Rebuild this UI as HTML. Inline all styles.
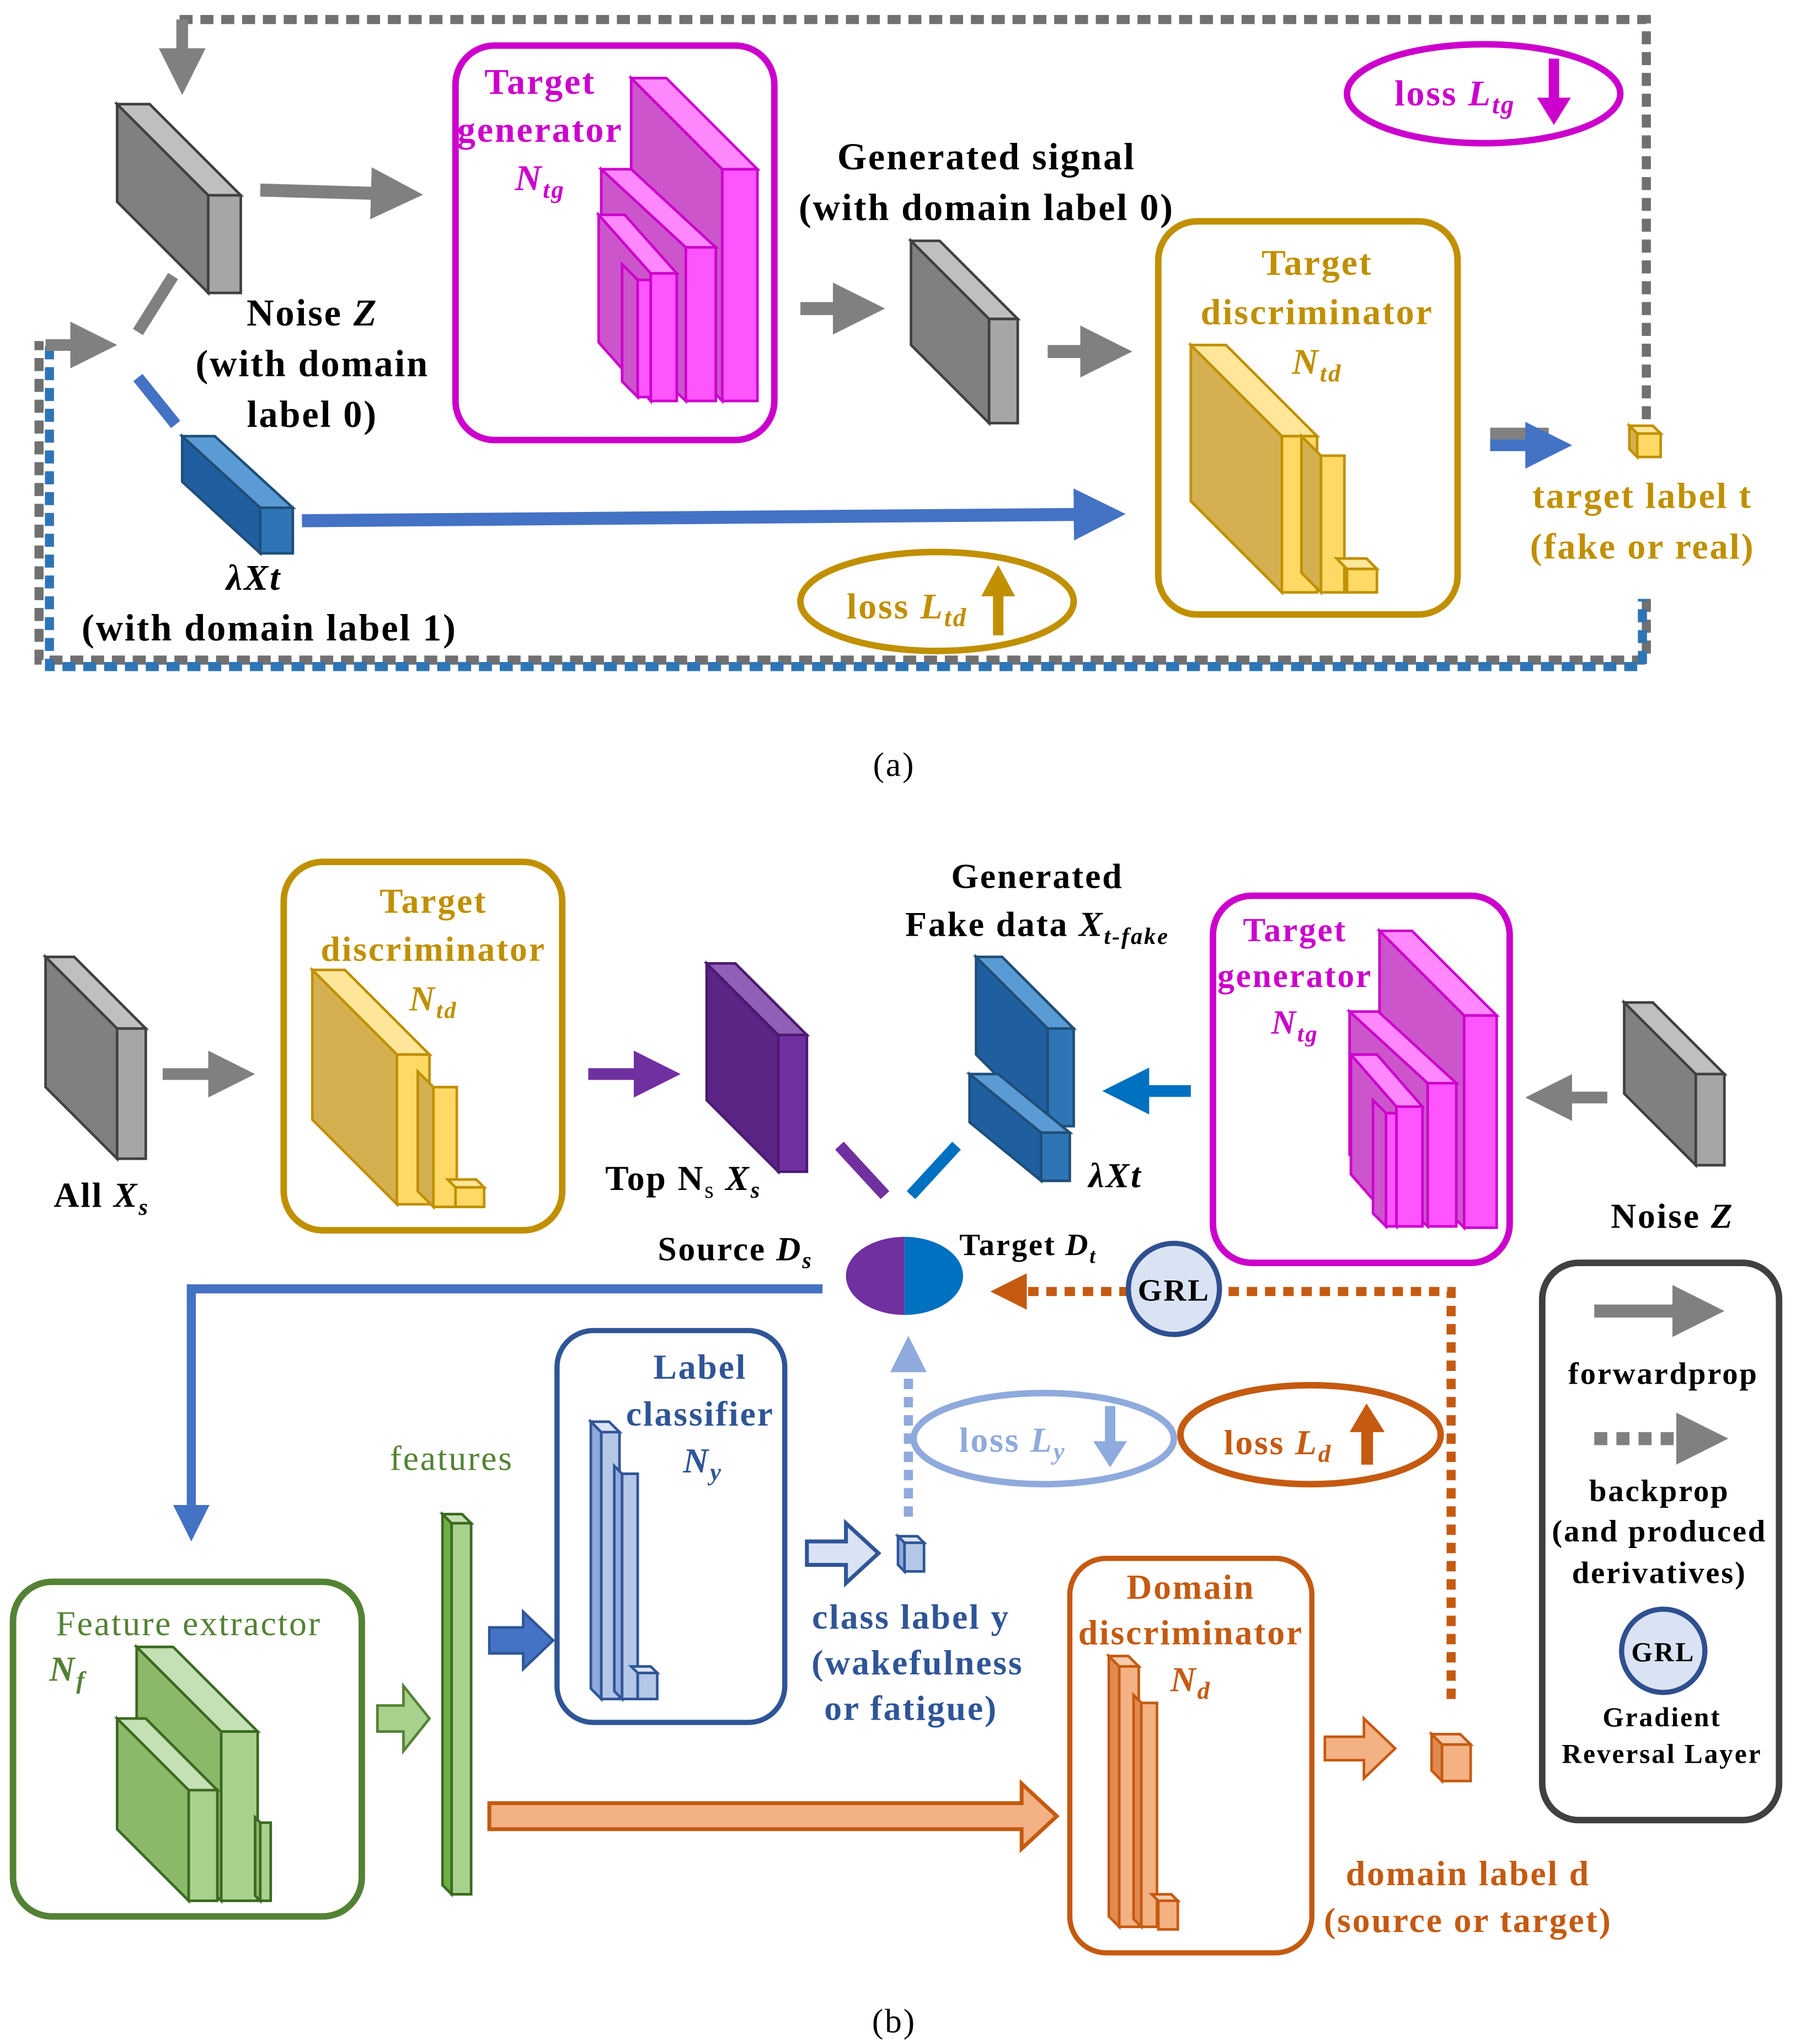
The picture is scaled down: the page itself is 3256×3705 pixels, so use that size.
<!DOCTYPE html>
<html><head><meta charset="utf-8"><style>
html,body{margin:0;padding:0;background:#fff}
svg{display:block}
text{font-family:"Liberation Serif",serif;font-weight:bold;text-anchor:middle;letter-spacing:1.2px}
</style></head><body>
<svg width="3256" height="3705" viewBox="0 0 1380 1570" preserveAspectRatio="none" xmlns="http://www.w3.org/2000/svg">
<defs>
<marker id="ag" markerWidth="4" markerHeight="4" refX="2" refY="2" orient="auto" markerUnits="strokeWidth"><path d="M0,0 L4,2 L0,4 z" fill="#808080"/></marker>
<marker id="ab" markerWidth="4" markerHeight="4" refX="2" refY="2" orient="auto" markerUnits="strokeWidth"><path d="M0,0 L4,2 L0,4 z" fill="#4472c4"/></marker>
<marker id="ab2" markerWidth="4" markerHeight="4" refX="2" refY="2" orient="auto" markerUnits="strokeWidth"><path d="M0,0 L4,2 L0,4 z" fill="#0070c0"/></marker>
<marker id="ap" markerWidth="4" markerHeight="4" refX="2" refY="2" orient="auto" markerUnits="strokeWidth"><path d="M0,0 L4,2 L0,4 z" fill="#7030a0"/></marker>
<marker id="ao" markerWidth="4" markerHeight="4" refX="2" refY="2" orient="auto" markerUnits="strokeWidth"><path d="M0,0 L4,2 L0,4 z" fill="#c55a11"/></marker>
<marker id="al" markerWidth="4" markerHeight="4" refX="2" refY="2" orient="auto" markerUnits="strokeWidth"><path d="M0,0 L4,2 L0,4 z" fill="#8faadc"/></marker>
</defs>

<!-- ===== (a) ===== -->
<g fill="none" stroke-width="7">
<polyline points="138,15 1265,15 1265,330" stroke="#707070" stroke-dasharray="10,6"/>
<polyline points="1265,460 1265,507 30,507 30,262" stroke="#707070" stroke-dasharray="10,6"/>
<polyline points="1262,460 1262,512 38,512 38,265" stroke="#2e75b6" stroke-dasharray="10,6" stroke-dashoffset="8"/>
</g>
<line x1="140" y1="15" x2="140" y2="55" stroke="#808080" stroke-width="9" marker-end="url(#ag)"/>
<line x1="35" y1="265" x2="72" y2="265" stroke="#808080" stroke-width="9" marker-end="url(#ag)"/>

<g stroke="#404040" stroke-width="2">
<polygon points="90,80 160,150 160,225 90,155" fill="#808080"/>
<polygon points="90,80 115,80 185,150 160,150" fill="#bfbfbf"/>
<rect x="160" y="150" width="25" height="75" fill="#a6a6a6"/>
</g>
<line x1="200" y1="146" x2="305" y2="149" stroke="#808080" stroke-width="10" marker-end="url(#ag)"/>
<line x1="133" y1="212" x2="106" y2="255" stroke="#808080" stroke-width="9"/>
<line x1="106" y1="290" x2="135" y2="326" stroke="#4472c4" stroke-width="9"/>
<text x="240" y="250" font-size="29">Noise <tspan font-style="italic">Z</tspan></text>
<text x="240" y="289" font-size="29">(with domain</text>
<text x="240" y="328" font-size="29">label 0)</text>

<rect x="350" y="35" width="245" height="303" rx="30" fill="none" stroke="#cc00cc" stroke-width="5"/>
<g stroke="#cc00cc" stroke-width="2">
<polygon points="485,60 555,130 555,308 485,238" fill="#cc55cc"/>
<polygon points="485,60 512,60 582,130 555,130" fill="#ff88ff"/>
<rect x="555" y="130" width="27" height="178" fill="#ff55ff"/>
<polygon points="462,130 527,190 527,308 462,248" fill="#cc55cc"/>
<polygon points="462,130 485,130 550,190 527,190" fill="#ff88ff"/>
<rect x="527" y="190" width="23" height="118" fill="#ff55ff"/>
<polygon points="460,165 500,210 500,308 460,263" fill="#cc55cc"/>
<polygon points="460,165 480,165 520,210 500,210" fill="#ff88ff"/>
<rect x="500" y="210" width="20" height="98" fill="#ff55ff"/>
<polygon points="478,203 490,215 490,305 478,293" fill="#cc55cc"/>
<rect x="490" y="215" width="10" height="90" fill="#ff55ff"/>
</g>
<text x="415" y="72" font-size="28" fill="#cc00cc">Target</text>
<text x="415" y="109" font-size="28" fill="#cc00cc">generator</text>
<text x="415" y="146" font-size="28" fill="#cc00cc" font-style="italic">N<tspan font-size="19" dy="6">tg</tspan></text>

<text x="758" y="130" font-size="29">Generated signal</text>
<text x="758" y="169" font-size="29">(with domain label 0)</text>
<line x1="615" y1="237" x2="660" y2="237" stroke="#808080" stroke-width="10" marker-end="url(#ag)"/>
<g stroke="#404040" stroke-width="2">
<polygon points="700,185 760,245 760,325 700,265" fill="#808080"/>
<polygon points="700,185 722,185 782,245 760,245" fill="#bfbfbf"/>
<rect x="760" y="245" width="22" height="80" fill="#a6a6a6"/>
</g>
<line x1="805" y1="270" x2="850" y2="270" stroke="#808080" stroke-width="10" marker-end="url(#ag)"/>

<rect x="890" y="170" width="230" height="302" rx="30" fill="none" stroke="#c09000" stroke-width="5"/>
<g stroke="#c09000" stroke-width="2">
<polygon points="915,265 985,335 985,455 915,385" fill="#d4b050"/>
<polygon points="915,265 942,265 1012,335 985,335" fill="#ffe699"/>
<rect x="985" y="335" width="27" height="120" fill="#ffd966"/>
<polygon points="1000,335 1015,350 1015,455 1000,440" fill="#d4b050"/>
<rect x="1015" y="350" width="18" height="105" fill="#ffd966"/>
<polygon points="1027,429 1035,437 1058,437 1050,429" fill="#ffe699"/>
<rect x="1035" y="437" width="23" height="18" fill="#ffd966"/>
</g>
<text x="1012" y="211" font-size="28" fill="#c09000">Target</text>
<text x="1012" y="249" font-size="28" fill="#c09000">discriminator</text>
<text x="1012" y="287" font-size="28" fill="#c09000" font-style="italic">N<tspan font-size="19" dy="6">td</tspan></text>

<line x1="1145" y1="333" x2="1190" y2="333" stroke="#808080" stroke-width="9"/>
<line x1="1145" y1="342" x2="1190" y2="342" stroke="#4472c4" stroke-width="9" marker-end="url(#ab)"/>
<g stroke="#c09000" stroke-width="2">
<polygon points="1252,327 1258,333 1276,333 1270,327" fill="#ffe699"/>
<polygon points="1252,327 1258,333 1258,351 1252,345" fill="#d4b050"/>
<rect x="1258" y="333" width="18" height="18" fill="#ffd966"/>
</g>
<text x="1262" y="390" font-size="28" fill="#c09000">target label t</text>
<text x="1262" y="429" font-size="28" fill="#c09000">(fake or real)</text>

<ellipse cx="1140" cy="72" rx="105" ry="38" fill="none" stroke="#cc00cc" stroke-width="5"/>
<text x="1118" y="81" font-size="28" fill="#cc00cc">loss <tspan font-style="italic">L<tspan font-size="20" dy="6">tg</tspan></tspan></text>
<polygon points="1190,45 1198,45 1198,75 1207,75 1194,96 1181,75 1190,75" fill="#cc00cc"/>

<g stroke="#1f4e79" stroke-width="2">
<polygon points="140,335 200,390 200,425 140,370" fill="#1f5fa0"/>
<polygon points="140,335 165,335 225,390 200,390" fill="#5b9bd5"/>
<rect x="200" y="390" width="25" height="35" fill="#2e75b6"/>
</g>
<line x1="232" y1="400" x2="845" y2="395" stroke="#4472c4" stroke-width="10" marker-end="url(#ab)"/>
<text x="195" y="453" font-size="28" font-style="italic">λXt</text>
<text x="207" y="492" font-size="29">(with domain label 1)</text>

<ellipse cx="720" cy="462" rx="105" ry="38" fill="none" stroke="#c09000" stroke-width="5"/>
<text x="697" y="475" font-size="28" fill="#c09000">loss <tspan font-style="italic">L<tspan font-size="20" dy="6">td</tspan></tspan></text>
<polygon points="763,488 771,488 771,458 780,458 767,434 754,458 763,458" fill="#c09000"/>

<text x="687" y="596" font-size="26" style="font-weight:normal">(a)</text>

<!-- ===== (b) ===== -->
<g stroke="#404040" stroke-width="2">
<polygon points="35,735 90,790 90,890 35,835" fill="#808080"/>
<polygon points="35,735 57,735 112,790 90,790" fill="#bfbfbf"/>
<rect x="90" y="790" width="22" height="100" fill="#a6a6a6"/>
</g>
<text x="78" y="927" font-size="27">All <tspan font-style="italic">X<tspan font-size="18" dy="6">s</tspan></tspan></text>
<line x1="125" y1="825" x2="178" y2="825" stroke="#808080" stroke-width="9" marker-end="url(#ag)"/>

<rect x="218" y="662" width="214" height="283" rx="30" fill="none" stroke="#c09000" stroke-width="5"/>
<g stroke="#c09000" stroke-width="2">
<polygon points="240,745 305,810 305,925 240,860" fill="#d4b050"/>
<polygon points="240,745 265,745 330,810 305,810" fill="#ffe699"/>
<rect x="305" y="810" width="25" height="115" fill="#ffd966"/>
<polygon points="321,823 333,835 333,927 321,915" fill="#d4b050"/>
<rect x="333" y="835" width="18" height="92" fill="#ffd966"/>
<polygon points="344,906 350,912 372,912 366,906" fill="#ffe699"/>
<rect x="350" y="912" width="22" height="15" fill="#ffd966"/>
</g>
<text x="333" y="701" font-size="27" fill="#c09000">Target</text>
<text x="333" y="738" font-size="27" fill="#c09000">discriminator</text>
<text x="333" y="776" font-size="27" fill="#c09000" font-style="italic">N<tspan font-size="18" dy="6">td</tspan></text>

<line x1="452" y1="825" x2="505" y2="825" stroke="#7030a0" stroke-width="9" marker-end="url(#ap)"/>
<g stroke="#4b1a70" stroke-width="2">
<polygon points="543,740 598,795 598,900 543,845" fill="#5a2585"/>
<polygon points="543,740 565,740 620,795 598,795" fill="#9060b8"/>
<rect x="598" y="795" width="22" height="105" fill="#7030a0"/>
</g>
<text x="525" y="914" font-size="27">Top N<tspan font-size="18" dy="6" style="font-weight:normal">s</tspan><tspan dy="-6"> </tspan><tspan font-style="italic">X<tspan font-size="18" dy="6">s</tspan></tspan></text>
<line x1="645" y1="880" x2="680" y2="918" stroke="#7030a0" stroke-width="9"/>
<line x1="700" y1="918" x2="735" y2="880" stroke="#0070c0" stroke-width="9"/>

<text x="797" y="682" font-size="27">Generated</text>
<text x="797" y="719" font-size="27">Fake data <tspan font-style="italic">X<tspan font-size="18" dy="6">t-fake</tspan></tspan></text>
<g stroke="#1f4e79" stroke-width="2">
<polygon points="750,735 805,790 805,865 750,810" fill="#1f5fa0"/>
<polygon points="750,735 770,735 825,790 805,790" fill="#5b9bd5"/>
<rect x="805" y="790" width="20" height="75" fill="#2e75b6"/>
<polygon points="745,825 800,870 800,907 745,862" fill="#1f5fa0"/>
<polygon points="745,825 767,825 822,870 800,870" fill="#5b9bd5"/>
<rect x="800" y="870" width="22" height="37" fill="#2e75b6"/>
</g>
<text x="857" y="912" font-size="27" font-style="italic">λXt</text>
<line x1="915" y1="838" x2="865" y2="838" stroke="#0070c0" stroke-width="9" marker-end="url(#ab2)"/>

<rect x="932" y="688" width="228" height="282" rx="30" fill="none" stroke="#cc00cc" stroke-width="5"/>
<g stroke="#cc00cc" stroke-width="2">
<polygon points="1060,715 1125,780 1125,943 1060,878" fill="#cc55cc"/>
<polygon points="1060,715 1085,715 1150,780 1125,780" fill="#ff88ff"/>
<rect x="1125" y="780" width="25" height="163" fill="#ff55ff"/>
<polygon points="1037,777 1097,832 1097,942 1037,887" fill="#cc55cc"/>
<polygon points="1037,777 1059,777 1119,832 1097,832" fill="#ff88ff"/>
<rect x="1097" y="832" width="22" height="110" fill="#ff55ff"/>
<polygon points="1038,810 1073,850 1073,942 1038,902" fill="#cc55cc"/>
<polygon points="1038,810 1058,810 1093,850 1073,850" fill="#ff88ff"/>
<rect x="1073" y="850" width="20" height="92" fill="#ff55ff"/>
<polygon points="1055,845 1065,855 1065,942 1055,932" fill="#cc55cc"/>
<rect x="1065" y="855" width="8" height="87" fill="#ff55ff"/>
</g>
<text x="995" y="723" font-size="26" fill="#cc00cc">Target</text>
<text x="995" y="758" font-size="26" fill="#cc00cc">generator</text>
<text x="995" y="794" font-size="26" fill="#cc00cc" font-style="italic">N<tspan font-size="18" dy="6">tg</tspan></text>

<line x1="1235" y1="843" x2="1190" y2="843" stroke="#808080" stroke-width="9" marker-end="url(#ag)"/>
<g stroke="#404040" stroke-width="2">
<polygon points="1248,770 1303,825 1303,895 1248,840" fill="#808080"/>
<polygon points="1248,770 1270,770 1325,825 1303,825" fill="#bfbfbf"/>
<rect x="1303" y="825" width="22" height="70" fill="#a6a6a6"/>
</g>
<text x="1285" y="943" font-size="27">Noise <tspan font-style="italic">Z</tspan></text>

<text x="565" y="968" font-size="26">Source <tspan font-style="italic">D<tspan font-size="18" dy="6">s</tspan></tspan></text>
<text x="790" y="964" font-size="24">Target <tspan font-style="italic">D<tspan font-size="16" dy="6">t</tspan></tspan></text>
<path d="M695,950 A45,30 0 0 0 695,1010 z" fill="#7030a0"/>
<path d="M695,950 A45,30 0 0 1 695,1010 z" fill="#0070c0"/>

<polyline points="1115,1305 1115,992 785,992" fill="none" stroke="#c55a11" stroke-width="7" stroke-dasharray="8,6"/>
<line x1="785" y1="992" x2="775" y2="992" stroke="#c55a11" stroke-width="7" marker-end="url(#ao)"/>
<circle cx="902" cy="990" r="35" fill="#dae3f3" stroke="#2f4f8f" stroke-width="4"/>
<text x="902" y="999" font-size="24">GRL</text>

<polyline points="632,990 147,990 147,1170" fill="none" stroke="#4472c4" stroke-width="7" marker-end="url(#ab)"/>
<polyline points="698,1165 698,1050" fill="none" stroke="#8faadc" stroke-width="7" stroke-dasharray="8,6"/>
<line x1="698" y1="1050" x2="698" y2="1040" stroke="#8faadc" stroke-width="7" marker-end="url(#al)"/>

<ellipse cx="802" cy="1105" rx="100" ry="35" fill="none" stroke="#8faadc" stroke-width="5"/>
<text x="778" y="1115" font-size="27" fill="#8faadc">loss <tspan font-style="italic">L<tspan font-size="19" dy="6">y</tspan></tspan></text>
<polygon points="849,1080 857,1080 857,1107 866,1107 853,1127 840,1107 849,1107" fill="#8faadc"/>
<ellipse cx="1007" cy="1102" rx="100" ry="38" fill="none" stroke="#c55a11" stroke-width="5"/>
<text x="982" y="1117" font-size="27" fill="#c55a11">loss <tspan font-style="italic">L<tspan font-size="19" dy="6">d</tspan></tspan></text>
<polygon points="1046,1125 1055,1125 1055,1100 1064,1100 1050,1078 1037,1100 1046,1100" fill="#c55a11"/>

<rect x="428" y="1022" width="175" height="301" rx="28" fill="none" stroke="#2f5597" stroke-width="4"/>
<g stroke="#2f5597" stroke-width="2">
<polygon points="454,1092 462,1100 462,1305 454,1297" fill="#8faadc"/>
<polygon points="454,1092 468,1092 476,1100 462,1100" fill="#dae3f3"/>
<rect x="462" y="1100" width="14" height="205" fill="#b4c7e7"/>
<polygon points="472,1126 478,1132 478,1305 472,1299" fill="#8faadc"/>
<rect x="478" y="1132" width="12" height="173" fill="#b4c7e7"/>
<polygon points="485,1280 490,1285 505,1285 500,1280" fill="#dae3f3"/>
<rect x="490" y="1285" width="15" height="20" fill="#b4c7e7"/>
</g>
<text x="538" y="1059" font-size="27" fill="#2f5597">Label</text>
<text x="538" y="1095" font-size="27" fill="#2f5597">classifier</text>
<text x="540" y="1131" font-size="27" fill="#2f5597" font-style="italic">N<tspan font-size="19" dy="6">y</tspan></text>

<text x="347" y="1129" font-size="27" fill="#548235" style="font-weight:normal">features</text>
<g stroke="#3a6a20" stroke-width="2">
<polygon points="340,1163 347,1170 347,1455 340,1448" fill="#70ad47"/>
<polygon points="340,1163 355,1163 362,1170 347,1170" fill="#c5e0b4"/>
<rect x="347" y="1170" width="15" height="285" fill="#a9d18e"/>
</g>

<rect x="10" y="1215" width="268" height="257" rx="30" fill="none" stroke="#548235" stroke-width="5"/>
<g stroke="#3a6a20" stroke-width="2">
<polygon points="105,1265 170,1330 170,1460 105,1395" fill="#8cb86a"/>
<polygon points="105,1265 133,1265 198,1330 170,1330" fill="#c5e0b4"/>
<rect x="170" y="1330" width="28" height="130" fill="#a9d18e"/>
<polygon points="90,1320 145,1375 145,1460 90,1405" fill="#8cb86a"/>
<polygon points="90,1320 112,1320 167,1375 145,1375" fill="#c5e0b4"/>
<rect x="145" y="1375" width="22" height="85" fill="#a9d18e"/>
<polygon points="196,1396 200,1400 200,1460 196,1456" fill="#8cb86a"/>
<rect x="200" y="1400" width="8" height="60" fill="#a9d18e"/>
</g>
<text x="145" y="1256" font-size="27" fill="#548235" style="font-weight:normal">Feature extractor</text>
<text x="52" y="1291" font-size="27" fill="#548235" font-style="italic">N<tspan font-size="19" dy="6">f</tspan></text>

<polygon points="376,1250 402,1250 402,1238 425,1260 402,1282 402,1270 376,1270" fill="#4472c4" stroke="#2f5597" stroke-width="2"/>
<polygon points="290,1310 310,1310 310,1295 330,1320 310,1345 310,1330 290,1330" fill="#a9d18e" stroke="#548235" stroke-width="2"/>
<polygon points="620,1184 650,1184 650,1170 675,1193 650,1216 650,1202 620,1202" fill="#dae3f3" stroke="#2f5597" stroke-width="3"/>
<g stroke="#2f5597" stroke-width="2">
<polygon points="690,1180 695,1185 710,1185 705,1180" fill="#dae3f3"/>
<polygon points="690,1180 695,1185 695,1207 690,1202" fill="#8faadc"/>
<rect x="695" y="1185" width="15" height="22" fill="#b4c7e7"/>
</g>
<text x="700" y="1251" font-size="27" fill="#2f5597">class label y</text>
<text x="705" y="1286" font-size="27" fill="#2f5597">(wakefulness</text>
<text x="700" y="1321" font-size="27" fill="#2f5597">or fatigue)</text>

<rect x="822" y="1197" width="186" height="303" rx="28" fill="none" stroke="#c55a11" stroke-width="4"/>
<g stroke="#c55a11" stroke-width="2">
<polygon points="852,1272 860,1280 860,1480 852,1472" fill="#e08a50"/>
<polygon points="852,1272 867,1272 875,1280 860,1280" fill="#f8cbad"/>
<rect x="860" y="1280" width="15" height="200" fill="#f4b183"/>
<polygon points="871,1302 877,1308 877,1480 871,1474" fill="#e08a50"/>
<rect x="877" y="1308" width="12" height="172" fill="#f4b183"/>
<polygon points="885,1455 890,1460 905,1460 900,1455" fill="#f8cbad"/>
<rect x="890" y="1460" width="15" height="22" fill="#f4b183"/>
</g>
<text x="915" y="1228" font-size="27" fill="#c55a11">Domain</text>
<text x="915" y="1263" font-size="27" fill="#c55a11">discriminator</text>
<text x="915" y="1299" font-size="27" fill="#c55a11" font-style="italic">N<tspan font-size="19" dy="6">d</tspan></text>

<polygon points="376,1385 785,1385 785,1370 812,1395 785,1420 785,1405 376,1405" fill="#f4b183" stroke="#c55a11" stroke-width="3"/>
<polygon points="1018,1334 1048,1334 1048,1320 1072,1343 1048,1366 1048,1352 1018,1352" fill="#f4b183" stroke="#c55a11" stroke-width="2"/>
<g stroke="#c55a11" stroke-width="2">
<polygon points="1100,1332 1108,1340 1130,1340 1122,1332" fill="#f8cbad"/>
<polygon points="1100,1332 1108,1340 1108,1368 1100,1360" fill="#e08a50"/>
<rect x="1108" y="1340" width="22" height="28" fill="#f4b183"/>
</g>
<text x="1128" y="1448" font-size="27" fill="#c55a11">domain label d</text>
<text x="1128" y="1484" font-size="27" fill="#c55a11">(source or target)</text>

<rect x="1185" y="970" width="182" height="428" rx="28" fill="none" stroke="#404040" stroke-width="5"/>
<line x1="1225" y1="1007" x2="1305" y2="1007" stroke="#808080" stroke-width="10" marker-end="url(#ag)"/>
<text x="1278" y="1063" font-size="24">forwardprop</text>
<line x1="1225" y1="1105" x2="1300" y2="1105" stroke="#808080" stroke-width="10" stroke-dasharray="10,7"/>
<line x1="1300" y1="1105" x2="1308" y2="1105" stroke="#808080" stroke-width="10" marker-end="url(#ag)"/>
<text x="1275" y="1153" font-size="24">backprop</text>
<text x="1275" y="1184" font-size="24">(and produced</text>
<text x="1275" y="1216" font-size="24">derivatives)</text>
<circle cx="1278" cy="1268" r="32" fill="#dae3f3" stroke="#2f4f8f" stroke-width="4"/>
<text x="1278" y="1276" font-size="21">GRL</text>
<text x="1277" y="1326" font-size="21">Gradient</text>
<text x="1277" y="1354" font-size="21">Reversal Layer</text>

<text x="687" y="1561" font-size="26" style="font-weight:normal">(b)</text>
</svg>
</body></html>
